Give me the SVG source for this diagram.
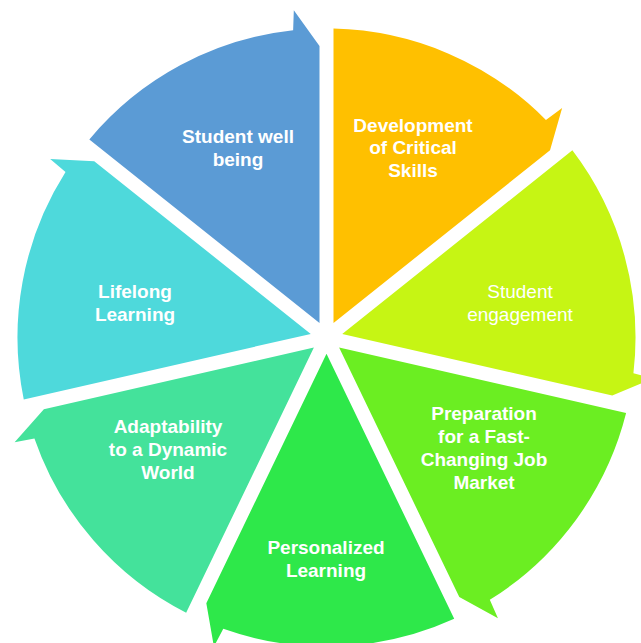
<svg xmlns="http://www.w3.org/2000/svg" width="641" height="643" viewBox="0 0 641 643">
<style>
text{font-family:"Liberation Sans",Arial,sans-serif;font-size:19px;fill:#ffffff;text-anchor:middle;font-weight:bold}
text.n{font-weight:normal}
</style>
<rect width="641" height="643" fill="#ffffff"/>
<g id="n-critical-skills">
<path d="M333.5,322.97 L333.5,28.58 A309,309 0 0 1 545.93,119.94 L562.14,107.9 L550.04,150.28 Z" fill="#FFC000"/>
<text x="413" y="131.7">Development</text>
<text x="413" y="154.3">of Critical</text>
<text x="413" y="176.9">Skills</text>
</g>
<g id="n-engagement">
<path d="M342.23,333.91 L572.38,150.36 A309,309 0 0 1 633.42,373.32 L652.94,378.49 L612.25,395.54 Z" fill="#C6F514"/>
<text class="n" x="520" y="298">Student</text>
<text class="n" x="520" y="320.6">engagement</text>
</g>
<g id="n-job-market">
<path d="M339.11,347.56 L626.12,413.06 A309,309 0 0 1 489.81,599.82 L497.94,618.3 L459.29,597.09 Z" fill="#6BEE22"/>
<text x="484" y="420">Preparation</text>
<text x="484" y="443">for a Fast-</text>
<text x="484" y="466">Changing Job</text>
<text x="484" y="489">Market</text>
</g>
<g id="n-personalized">
<path d="M326.5,353.63 L454.22,618.87 A309,309 0 0 1 223.28,628.75 L213.9,646.63 L206.33,603.17 Z" fill="#2EE84A"/>
<text x="326" y="554">Personalized</text>
<text x="326" y="577">Learning</text>
</g>
<g id="n-adaptability">
<path d="M313.89,347.56 L186.16,612.79 A309,309 0 0 1 34.43,438.39 L14.61,442.2 L43.87,409.18 Z" fill="#44E29B"/>
<text x="168" y="433">Adaptability</text>
<text x="168" y="456">to a Dynamic</text>
<text x="168" y="479">World</text>
</g>
<g id="n-lifelong">
<path d="M310.77,333.91 L23.76,399.42 A309,309 0 0 1 65.52,172.06 L50.17,158.94 L94.24,161.22 Z" fill="#4ED9DB"/>
<text x="135" y="298">Lifelong</text>
<text x="135" y="320.6">Learning</text>
</g>
<g id="n-wellbeing">
<path d="M319.5,322.97 L89.34,139.42 A309,309 0 0 1 293.13,30.31 L293.82,10.13 L319.5,46 Z" fill="#5B9BD5"/>
<text x="238" y="143">Student well</text>
<text x="238" y="165.6">being</text>
</g>
<g id="connectors"/>
</svg>
